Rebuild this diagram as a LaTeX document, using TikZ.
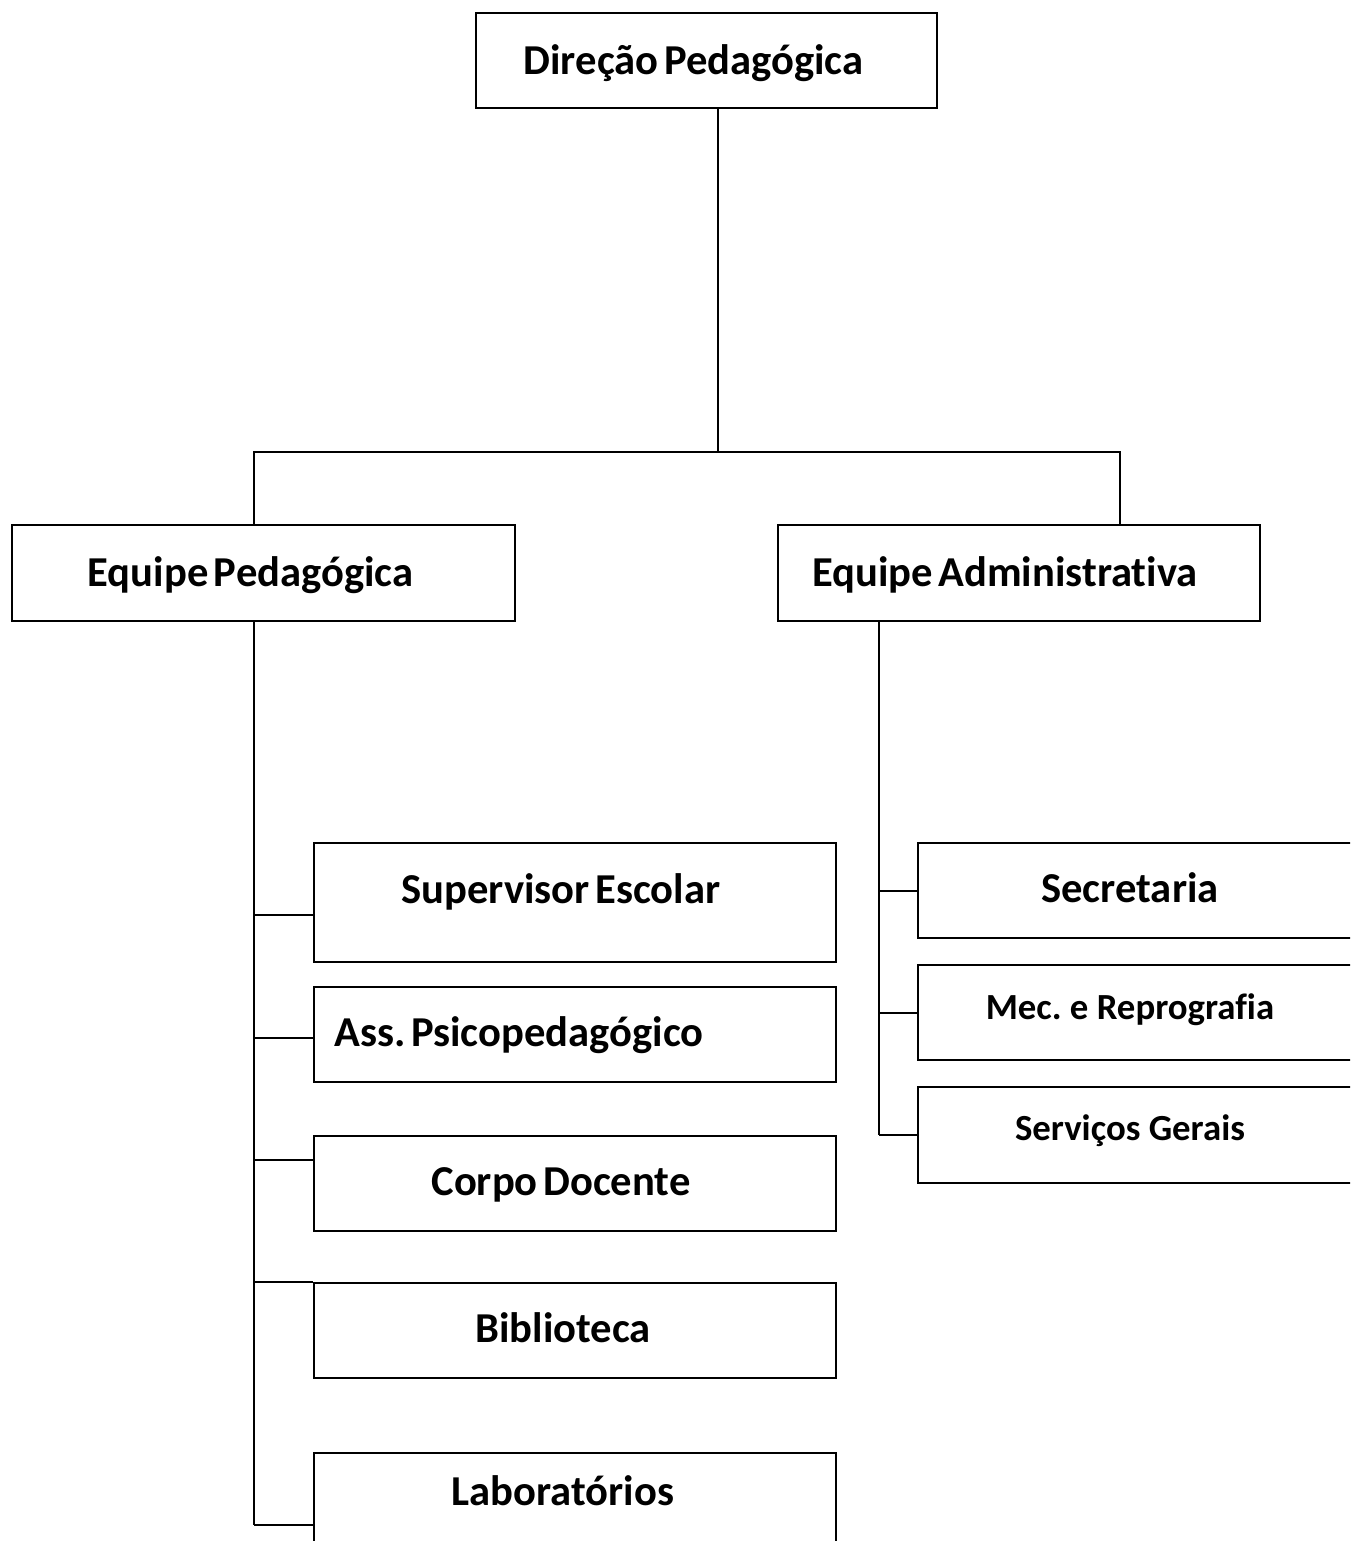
\documentclass[tikz,border=0pt]{standalone}
\usepackage{fontspec}
\setmainfont{Carlito}[Ligatures=NoCommon]
\frenchspacing
\usetikzlibrary{positioning,calc}
\newcommand\tightsp{\spaceskip=0.13em\relax}
\tikzset{
	unit/.style={draw=black,line width=1pt,rectangle,inner sep=0pt,
		font=\bfseries\fontsize{21.3}{25}\selectfont\tightsp,text height=13.7pt,text depth=0pt},
	small/.style={font=\bfseries\fontsize{18.4}{22}\selectfont,text height=11.9pt},
	link/.style={draw=black,line width=1pt},
	lshift/.style={execute at end node={\hspace*{#1}}},
}

\begin{document}
\begin{tikzpicture}[x=0.5pt,y=-0.5pt]
	\useasboundingbox (0,0) rectangle (1350,1541);
	\clip (0,0) rectangle (1350,1541);
	% top and second level
	\node[unit,minimum width=230.5pt,minimum height=47.5pt,lshift=13pt] (dir) at (706.5,60.5) {Direção Pedagógica};
	\node[unit,minimum width=251.5pt,minimum height=48pt,lshift=13pt] (eqped) at (263.5,573) {Equipe Pedagógica};
	\node[unit,minimum width=241pt,minimum height=48pt,lshift=14pt] (eqadm) at (1019,573) {Equipe Administrativa};
	\coordinate (hub) at (718,452);
	\coordinate (barL) at (254,452);
	\coordinate (barR) at (1120,452);
	\draw[link] (dir.south -| hub) -- (hub);
	\draw[link] (eqped.north -| barL) -- (barL) -- (barR) -- (eqadm.north -| barR);
	% pedagogical column
	\foreach \n/\yy/\hh/\dx/\up/\txt in {sup/902.5/59.5pt/14pt/6.5pt/Supervisor Escolar,
		ass/1034.5/47.5pt/56pt/1pt/Ass. Psicopedagógico,
		cor/1183.5/47.5pt/14pt/1pt/Corpo Docente,
		bib/1330.5/47.5pt/12pt/1pt/Biblioteca,
		lab/1500.5/47.5pt/12pt/4.5pt/Laboratórios}
	\node[unit,minimum width=261pt,minimum height=\hh,lshift=\dx] (\n) at (575,\yy) {\raisebox{\up}{\txt}};
	\foreach \n/\yy in {sup/915,ass/1038,cor/1160,bib/1282,lab/1525}
	{\coordinate (s-\n) at (254,\yy);
		\draw[link] (s-\n) -- (s-\n -| \n.west);}
	\draw[link] (eqped.south -| barL) -- (s-lab);
	% administrative column
	\node[unit,minimum width=225pt,minimum height=47.5pt,lshift=13pt] (sec) at (1143,890.5) {\raisebox{1pt}{Secretaria}};
	\node[unit,small,minimum width=225pt,minimum height=47.5pt,lshift=13pt] (mec) at (1143,1012.5) {\raisebox{2.5pt}{Mec. e Reprografia}};
	\node[unit,small,minimum width=225pt,minimum height=48pt,lshift=13pt] (ser) at (1143,1135) {\raisebox{3pt}{Serviços Gerais}};
	\coordinate (spR) at (879,0);
	\draw[link] (eqadm.south -| spR) -- (ser.west -| spR);
	\foreach \n in {sec,mec,ser}
	\draw[link] (\n.west -| spR) -- (\n.west);
\end{tikzpicture}
\end{document}
